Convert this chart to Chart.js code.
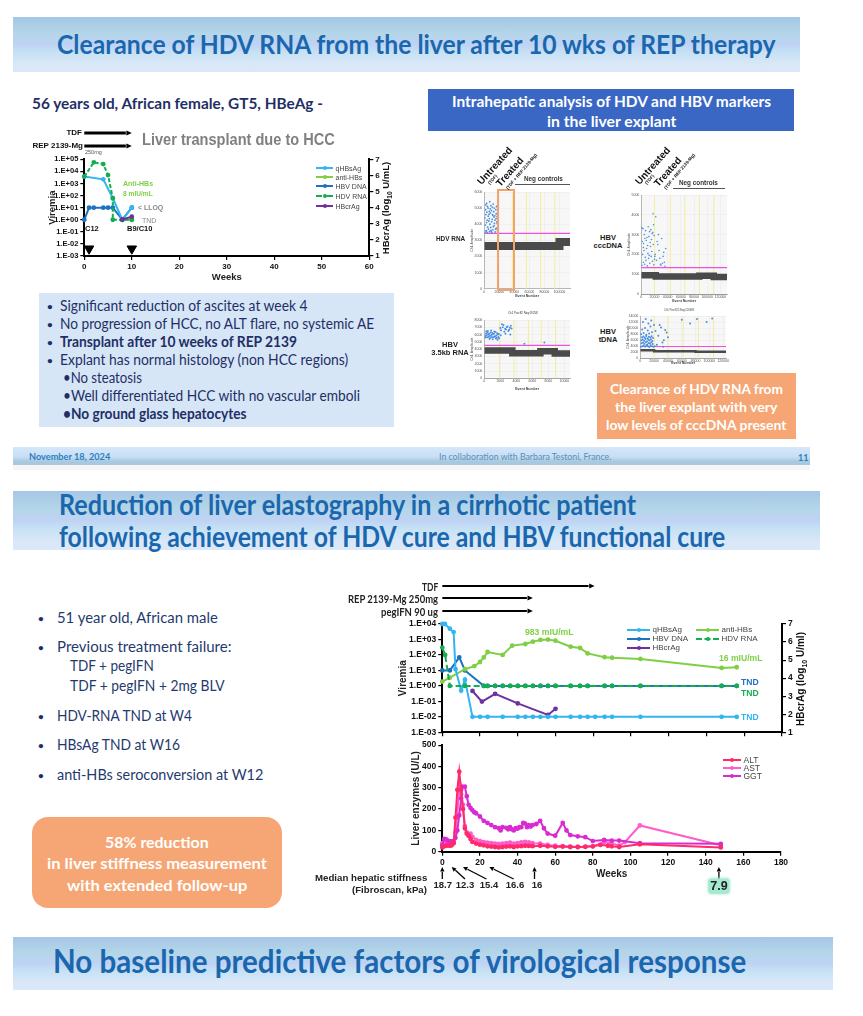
<!DOCTYPE html>
<html>
<head>
<meta charset="utf-8">
<title>HDV slides</title>
<script src="https://cdn.jsdelivr.net/npm/chart.js@4"></script>
<style>
  html, body { margin:0; padding:0; background:#fff; }
  #page { position:relative; width:863px; height:1016px; overflow:hidden; font-family:Lato, sans-serif; }
  #page canvas { position:absolute; }
  .box { position:absolute; }
  .band { background:linear-gradient(180deg,#a6c6e6 0%,#b4d6e8 30%,#bfd3f5 50%,#c6e2f4 65%,#d9e7f8 85%,#dbe8f8 100%); }
  .foot { background:linear-gradient(180deg,#d6e7f9 0%,#c6def4 55%,#a9c9df 80%,#a6c8de 100%); }
  .txt { position:absolute; white-space:nowrap; line-height:1; transform-origin:0 50%; }
  .leg { position:absolute; height:0; }
  .dot { position:absolute; width:4px; height:4px; border-radius:50%; }
</style>
</head>
<body>
<div id="page">
  <div class="box band" style="left:13px;top:17px;width:787px;height:55px"></div>
  <div class="box band" style="left:13px;top:491px;width:807px;height:59px"></div>
  <div class="box band" style="left:13px;top:937px;width:820px;height:53px"></div>
  <div class="box foot" style="left:13px;top:447px;width:797px;height:18px"></div>
  <div class="box" style="left:13px;top:465px;width:797px;height:5px;background:#f5f5f5"></div>
  <div class="box" style="left:428px;top:89px;width:366px;height:42px;background:#3a67c4"></div>
  <div class="box" style="left:39px;top:293px;width:355px;height:134px;background:#d6e6f7"></div>
  <div class="box" style="left:597px;top:373px;width:199px;height:66px;background:#f6a675"></div>
  <div class="box" style="left:32px;top:817px;width:250px;height:91px;background:#f6a675;border-radius:16px"></div>

  <canvas id="chartTop" width="346" height="158" style="left:47px;top:125px"></canvas>
  <canvas id="chartVir" width="411" height="162" style="left:397px;top:580px"></canvas>
  <canvas id="chartEnz" width="390" height="144" style="left:410px;top:738px"></canvas>
  <canvas id="ddHdv" width="104" height="110" style="left:470px;top:188px"></canvas>
  <canvas id="ddCcc" width="104" height="112" style="left:627.4px;top:191px"></canvas>
  <canvas id="ddRna" width="104" height="75" style="left:470px;top:316px"></canvas>
  <canvas id="ddTdna" width="104" height="53" style="left:625.7px;top:312px"></canvas>

  <div class="box" style="left:497px;top:189px;width:14px;height:98px;border:2.5px solid #f4a26b"></div>
  <div class="box" style="left:515px;top:184px;width:55px;height:1px;background:#555"></div>
  <div class="box" style="left:673px;top:188px;width:52px;height:1px;background:#555"></div>
</div>

<script>
// chart 1 - liver transplant patient
const topWeeksQ = [0, 4, 6, 8, 10];
const topQ = [3700, 2200, 60, 1, 10];
const topWeeksAnti = [8, 10];
const topAnti = [1, 1];
const topWeeksDna = [0, 1, 2, 4, 5, 6, 8, 10];
const topDna = [1, 10, 10, 10, 10, 10, 1, 10];
const topWeeksRna = [0, 2, 4, 5, 6, 6, 8, 10];
const topRna = [3700, 56000, 40000, 5000, 60, 1, 1, 1];
const topWeeksCr = [8, 10];
const topCr = [3.27, 3.44];
const biopsyWeeks = [1, 10];
const biopsyLevel = [0.004, 0.004];
const topTreatEnd = [10, 10];
const topViremiaTicks = [1e-3, 1e-2, 1e-1, 1, 10, 100, 1e3, 1e4, 1e5];
const topViremiaLabels = ['1.E-03', '1.E-02', '1.E-01', '1.E+00', '1.E+01', '1.E+02', '1.E+03', '1.E+04', '1.E+05'];

// chart 2 - cirrhotic patient, viremia
const virWeeksQ = [0, 1.4, 4, 6, 7, 10, 12, 16, 20, 24, 32, 40, 44, 48, 52, 56, 60, 68, 73, 77, 81, 86, 90, 105, 148, 156];
const virQ = [10000, 10000, 5000, 3000, 12, 0.5, 2.5, 0.01, 0.01, 0.01, 0.01, 0.01, 0.01, 0.01, 0.01, 0.01, 0.01, 0.01, 0.01, 0.01, 0.01, 0.01, 0.01, 0.01, 0.01, 0.01];
const virWeeksAnti = [0, 4, 12, 17, 20, 22, 24, 32, 37, 44, 48, 52, 56, 60, 68, 73, 77, 86, 90, 105, 148, 156];
const virAnti = [1.9, 3.4, 12, 19, 35, 69, 155, 100, 400, 510, 725, 930, 983, 830, 340, 280, 126, 72, 66, 55, 14.5, 16];
const virWeeksDna = [0, 4, 9, 12, 22, 24, 28, 32, 36, 40, 44, 48, 52, 56, 60, 68, 73, 77, 86, 90, 105, 148, 156];
const virDna = [10, 10, 70, 10, 1, 1, 1, 1, 1, 1, 1, 1, 1, 1, 1, 1, 1, 1, 1, 1, 1, 1, 1];
const virWeeksRna = [0, 1.5, 4, 12, 22, 24, 28, 32, 36, 40, 44, 48, 52, 56, 60, 68, 73, 77, 86, 90, 105, 148, 156];
const virRna = [300, 100, 1, 1, 1, 1, 1, 1, 1, 1, 1, 1, 1, 1, 1, 1, 1, 1, 1, 1, 1, 1, 1];
const virWeeksCr = [16, 21, 28, 40, 56, 60];
const virCr = [3.29, 2.7, 3.13, 2.6, 1.96, 2.3];
const virTreatEnd = [80.7, 48, 48];
const virTicks = [1e-3, 1e-2, 1e-1, 1, 10, 100, 1e3, 1e4];
const virLabels = ['1.E-03', '1.E-02', '1.E-01', '1.E+00', '1.E+01', '1.E+02', '1.E+03', '1.E+04'];

// chart 3 - liver enzymes
const altWeeks = [0, 1, 2, 3, 4, 5, 6, 7, 8, 9, 10, 11, 12, 13, 14, 15, 16, 18, 20, 22, 24, 26, 28, 30, 32, 34, 36, 38, 40, 42, 44, 46, 48, 52, 56, 60, 64, 68, 72, 76, 80, 84, 88, 90, 94, 105, 148];
const alt = [20, 25, 28, 30, 28, 30, 40, 160, 290, 375, 290, 200, 110, 85, 75, 60, 46, 38, 33, 30, 25, 24, 22, 20, 22, 24, 25, 22, 25, 26, 28, 27, 26, 28, 25, 23, 24, 22, 22, 23, 25, 32, 28, 25, 22, 35, 20];
const astWeeks = [0, 1, 2, 3, 4, 5, 6, 7, 8, 9, 10, 11, 12, 13, 14, 15, 16, 18, 20, 22, 24, 26, 28, 30, 32, 34, 36, 38, 40, 42, 44, 46, 48, 52, 56, 60, 64, 68, 72, 76, 80, 86, 90, 94, 97, 105, 148];
const ast = [40, 42, 45, 45, 42, 40, 40, 90, 170, 320, 270, 220, 120, 90, 75, 85, 70, 55, 50, 45, 42, 40, 38, 36, 38, 40, 42, 38, 40, 44, 46, 44, 40, 38, 32, 28, 26, 24, 22, 24, 25, 45, 40, 28, 45, 123, 30];
const ggtWeeks = [0, 1, 2, 3, 4, 5, 6, 7, 8, 9, 10, 10.5, 12, 13, 14, 15, 16, 17, 18, 20, 22, 24, 26, 28, 30, 31, 32, 34, 35, 36, 37, 38, 39, 40, 41, 42, 43, 44, 45, 46, 47, 48, 50, 52, 54, 56, 60, 64, 66, 68, 72, 76, 80, 86, 90, 94, 105, 148];
const ggt = [30, 60, 58, 52, 48, 48, 50, 65, 100, 170, 250, 305, 305, 260, 220, 205, 195, 185, 180, 165, 145, 135, 125, 115, 110, 100, 115, 112, 105, 115, 105, 100, 110, 108, 115, 115, 135, 132, 115, 125, 118, 125, 130, 145, 110, 85, 75, 135, 100, 78, 72, 68, 50, 55, 52, 52, 40, 37];
const fibroWeeks = [0, 5, 11, 25, 49, 147];
const fibroValues = ['18.7', '12.3', '15.4', '16.6', '16', '7.9'];

// droplet panels, values read by eye
const hdvBlueX = [1000,2500,4000,5500,7000,8500,10000,11500,13000,14500,16000,17500,1500,3000,4500,6000,7500,9000,10500,12000,13500,15000,16500,18000,800,2200,3600,5200,6800,8200,9800,11200,12800,14200,15800,17200,1800,3400,5000,6600,8000,9600,11000,12600,14000,15600,17000,2000,4200,6400,8800,10800,13200,15400,3200,7200,11800,16200,2800,9400];
const hdvBlueY = [3500,3600,3480,3700,3550,3800,3460,3650,3900,3520,3750,3600,3950,4100,3820,4200,4000,3620,4300,3850,4050,3700,4150,3920,4400,4600,4250,4500,4350,4700,4150,4550,4450,4250,4650,4050,4900,4750,5000,4800,4950,4850,4600,4780,4520,4350,4480,5200,5100,4620,5150,5050,5000,4900,5300,5400,5250,5100,3580,3540];
const hdvBand = [2650, 2650, 2900, 2900];
const hdvBandX = [0, 100000, 100000, 114000];
const hdvWells = [18600, 37300, 56000, 75000, 94000];

const cccBlueX = [1000,3000,5000,7000,9000,11000,13000,15000,17000,19000,2000,4000,6000,8000,10000,12000,14000,16000,18000,20000,1500,3500,5500,7500,9500,11500,13500,15500,17500,19500,2500,4500,6500,8500,10500,12500,14500,16500,18500,21000,23000,25000,27000,29000,31000,33000,35000,37000,22000,26000,30000,34000,24000,28000,32000,36000,20500,600,3200,17800];
const cccBlueY = [1450,1600,1500,1700,1420,1800,1550,1900,1650,1480,2000,2200,1850,2300,2050,1950,2400,2150,2500,1750,2650,2550,2800,2700,2450,2900,2600,2750,3100,2950,3300,3000,3200,2850,3400,3150,3250,3050,3500,2000,1700,2500,2200,1500,2800,1900,1600,2300,3900,3000,1450,2100,2650,1800,1550,1400,1900,3350,2350,4050];
const cccBand = [950, 950, 880, 880, 920, 920, 860, 860];
const cccBandX = [0, 22000, 22000, 88000, 88000, 110000, 110000, 130000];
const cccWells = [20000, 44000, 66000, 88000, 110000];

const rnaBlueX = [100,300,500,700,900,1100,1300,1500,1700,200,400,600,800,1000,1200,1400,1600,1800,150,350,550,750,950,1150,1350,1550,1750,250,450,650,850,1050,1250,1450,1650,1850,2000,2300,2600,2900,3200,3400,2100,2400,2700,3000,3300,2200,2500,2800,3100,2050,2650,3250,7500,5000];
const rnaBlueY = [5800,5900,6000,5850,5950,6050,5750,5880,6020,6150,6250,6100,6300,6200,6120,6350,6180,6080,5600,5650,5700,5550,5680,5620,5720,5580,5660,6450,6500,5400,6550,5350,6420,5450,5300,5500,6900,7000,6800,7100,6950,6850,6600,7300,6700,6500,7200,7400,6400,7050,6650,5900,6100,6000,4900,4750];
const rnaBand = [3800, 3800, 3450, 3450, 3700, 3700, 3400, 3400];
const rnaBandX = [0, 3500, 3500, 7000, 7000, 8800, 8800, 10700];
const rnaWells = [1900, 3700, 5500, 7100, 8900];

const tdnaBlueX = [1000,3000,5000,7000,9000,11000,13000,15000,17000,19000,2000,4000,6000,8000,10000,12000,14000,16000,18000,1500,3500,5500,7500,9500,11500,13500,15500,17500,2500,4500,6500,8500,10500,12500,14500,16500,18500,1200,4800,8800,12800,16800,2800,6800,10800,14800,22000,26000,30000,34000,38000,24000,28000,32000,36000,40000,3800,7800,11800,15800,19800,60000,72000,82000,96000,104000,21000,33000];
const tdnaBlueY = [3800,4000,4200,3900,4400,4100,3700,4300,4000,3800,5000,5200,4800,5400,4600,5100,4900,5300,4700,6000,6200,5800,6400,5600,6100,5900,6300,5700,7000,7200,6800,7400,6600,7100,6900,7300,6700,8000,8400,7800,8200,8600,9500,10000,9200,10500,9000,7500,10200,6000,8500,4500,11000,5200,9400,7000,12000,13000,11500,12500,11000,12800,11500,13000,12000,13200,4000,3800];
const tdnaBand = [2700, 2700, 2300, 2300, 2200, 2200];
const tdnaBandX = [0, 20000, 20000, 80000, 80000, 124000];
const tdnaWells = [20000, 40000, 62000, 84000, 106000];

const pageEl = document.getElementById('page');
const arial = '"Liberation Sans", Arial, sans-serif';
const navy = '#1f2f66';
const titleBlue = '#1a67ae';

function xy(xs, ys) { return xs.map((x, i) => ({ x: x, y: ys[i] })); }

function lineSet(label, xs, ys, color, extra) {
  return Object.assign({
    label: label, data: xy(xs, ys), borderColor: color, backgroundColor: color,
    borderWidth: 2, pointRadius: 1.4, pointHoverRadius: 1.4, tension: 0, clip: false
  }, extra || {});
}

function arrow(ctx, x1, y1, x2, y2, lw, head) {
  const a = Math.atan2(y2 - y1, x2 - x1);
  ctx.save();
  ctx.strokeStyle = ctx.fillStyle = '#000';
  ctx.lineWidth = lw;
  ctx.beginPath();
  ctx.moveTo(x1, y1);
  ctx.lineTo(x2 - Math.cos(a) * head, y2 - Math.sin(a) * head);
  ctx.stroke();
  ctx.beginPath();
  ctx.moveTo(x2, y2);
  ctx.lineTo(x2 - Math.cos(a - 0.45) * head, y2 - Math.sin(a - 0.45) * head);
  ctx.lineTo(x2 - Math.cos(a + 0.45) * head, y2 - Math.sin(a + 0.45) * head);
  ctx.closePath();
  ctx.fill();
  ctx.restore();
}

// treatment bars above the plots, fibroscan arrows below, well lines on droplet plots
const slidePlugin = {
  id: 'slideMarks',
  beforeDatasetsDraw(chart, args, opts) {
    const a = chart.chartArea, ctx = chart.ctx;
    if (opts.wells) {
      ctx.save();
      ctx.fillStyle = 'rgba(240,240,240,0.5)';
      ctx.fillRect(a.left, a.top, a.right - a.left, a.bottom - a.top);
      ctx.strokeStyle = '#f2eda0';
      ctx.lineWidth = 1;
      opts.wells.forEach(w => {
        const x = chart.scales.x.getPixelForValue(w);
        ctx.beginPath(); ctx.moveTo(x, a.top); ctx.lineTo(x, a.bottom); ctx.stroke();
      });
      ctx.restore();
    }
  },
  afterDraw(chart, args, opts) {
    const ctx = chart.ctx, xs = chart.scales.x;
    (opts.treat || []).forEach((end, i) => {
      arrow(ctx, xs.getPixelForValue(0), opts.rows[i], xs.getPixelForValue(end), opts.rows[i], opts.lw, 6);
    });
    (opts.fibro || []).forEach((wk, i) => {
      arrow(ctx, xs.getPixelForValue(wk) + opts.tails[i], 141, xs.getPixelForValue(wk), 129, 1.3, 5);
    });
  }
};
Chart.register(slidePlugin);

// fixed plot rectangles so the slide layout lines up
function sideAxis(width, extra) {
  return Object.assign({ afterFit: s => { s.width = width; } }, extra);
}
function bottomAxis(height, extra) {
  return Object.assign({ afterFit: s => { s.height = height; } }, extra);
}
const blackGrid = { drawOnChartArea: false, drawTicks: true, tickLength: 4, color: '#000', lineWidth: 1.2 };
const blackBorder = { color: '#000', width: 2 };

function tickFont(size) { return { family: arial, size: size, weight: 'bold' }; }
function titleOpt(text, size, color, pad) {
  return { display: true, text: text, color: color || '#222', font: { family: arial, size: size, weight: 'bold' }, padding: pad || 0 };
}

function baseOptions(top, right, marks) {
  return {
    responsive: false, animation: false, events: [],
    layout: { padding: { top: top, left: 0, right: right || 0, bottom: 0 } },
    plugins: { legend: { display: false }, tooltip: { enabled: false }, title: { display: false }, slideMarks: marks || {} }
  };
}

function logAxis(width, ticks, labels, max, fontSize, titleSize) {
  return sideAxis(width, {
    type: 'logarithmic', position: 'left', min: 1e-3, max: max,
    afterBuildTicks: s => { s.ticks = ticks.map(v => ({ value: v, major: true })); },
    ticks: { color: '#111', font: tickFont(fontSize), padding: 2, autoSkip: false, callback: (v, i) => labels[i] },
    grid: blackGrid, border: blackBorder,
    title: titleOpt('Viremia', titleSize)
  });
}
function crAxis(width, fontSize) {
  return sideAxis(width, {
    type: 'linear', position: 'right', min: 1, max: 7,
    ticks: { stepSize: 1, color: '#111', font: tickFont(fontSize), padding: 2 },
    grid: blackGrid, border: blackBorder
  });
}
function weekAxis(height, max, step, fontSize, showLabels, title, titleSize, pad) {
  return bottomAxis(height, {
    type: 'linear', min: 0, max: max,
    ticks: { stepSize: step, display: showLabels, color: '#111', font: tickFont(fontSize), maxRotation: 0, padding: 2 },
    grid: blackGrid, border: blackBorder,
    title: title ? titleOpt(title, titleSize, '#222', pad) : { display: false }
  });
}

const qColor = '#33b5f0', antiColor = '#7fcf45', dnaColor = '#1e73be', rnaColor = '#14ad50', crColor = '#7030a0';
const altColor = '#ff2a6a', astColor = '#ff5ccc', ggtColor = '#d82cd0';

new Chart(document.getElementById('chartTop'), {
  type: 'line',
  data: { datasets: [
    lineSet('qHBsAg', topWeeksQ, topQ, qColor),
    lineSet('anti-HBs', topWeeksAnti, topAnti, antiColor),
    lineSet('HBV DNA', topWeeksDna, topDna, dnaColor),
    lineSet('HDV RNA', topWeeksRna, topRna, rnaColor, { borderDash: [4, 2], order: -1 }),
    lineSet('HBcrAg', topWeeksCr, topCr, crColor, { yAxisID: 'y2', order: -2 }),
    { label: 'biopsy', data: xy(biopsyWeeks, biopsyLevel), showLine: false, pointStyle: 'triangle', rotation: 180, pointRadius: 5.5, backgroundColor: '#000', borderColor: '#000', clip: false }
  ] },
  options: Object.assign(baseOptions(34.3, 0, { treat: topTreatEnd, rows: [8, 21], lw: 3 }), {
    scales: {
      x: weekAxis(27, 60, 10, 8, true, 'Weeks', 9.5, { bottom: 0 }),
      y: logAxis(37.3, topViremiaTicks, topViremiaLabels, 1e5, 7.5, 9.5),
      y2: crAxis(23.7, 8)
    }
  })
});

new Chart(document.getElementById('chartVir'), {
  type: 'line',
  data: { datasets: [
    lineSet('qHBsAg', virWeeksQ, virQ, qColor),
    lineSet('anti-HBs', virWeeksAnti, virAnti, antiColor),
    lineSet('HBV DNA', virWeeksDna, virDna, dnaColor),
    lineSet('HDV RNA', virWeeksRna, virRna, rnaColor, { borderDash: [6, 3], order: -1 }),
    lineSet('HBcrAg', virWeeksCr, virCr, crColor, { yAxisID: 'y2' })
  ] },
  options: Object.assign(baseOptions(44, 0, { treat: virTreatEnd, rows: [6, 18, 31], lw: 2 }), {
    scales: {
      x: weekAxis(9.7, 180, 20, 8, false),
      y: logAxis(45.3, virTicks, virLabels, 1e4, 8.5, 10),
      y2: crAxis(26, 8.5)
    }
  })
});

new Chart(document.getElementById('chartEnz'), {
  type: 'line',
  data: { datasets: [
    lineSet('ALT', altWeeks, alt, altColor, { order: -1 }),
    lineSet('AST', astWeeks, ast, astColor, { order: 1 }),
    lineSet('GGT', ggtWeeks, ggt, ggtColor, { order: 0 })
  ] },
  options: Object.assign(baseOptions(5, 19, { fibro: fibroWeeks, tails: [0, 13.3, 23.4, 24.3, 0, 0] }), {
    scales: {
      x: weekAxis(30.3, 180, 20, 8.5, true, 'Weeks', 10, { bottom: 2 }),
      y: sideAxis(32.3, {
        type: 'linear', min: 0, max: 500,
        ticks: { stepSize: 100, color: '#111', font: tickFont(8.5), padding: 2 },
        grid: blackGrid, border: blackBorder,
        title: titleOpt('Liver enzymes (U/L)', 10)
      })
    }
  })
});

function droplet(id, spec) {
  new Chart(document.getElementById(id), {
    type: 'scatter',
    data: { datasets: [
      { data: xy(spec.bandX, spec.band), showLine: true, borderColor: '#4a4a4a', borderWidth: spec.bandW, pointRadius: 0, borderCapStyle: 'butt', order: 2 },
      { data: xy([0, spec.xMax], [spec.thresh, spec.thresh]), showLine: true, borderColor: '#f050e0', borderWidth: 1.2, pointRadius: 0, order: 1 },
      { data: xy(spec.blueX, spec.blueY), showLine: false, pointRadius: spec.dot, backgroundColor: '#4a8fe0', borderWidth: 0, order: 0 }
    ] },
    options: Object.assign(baseOptions(spec.top, spec.right, { wells: spec.wells }), {
      scales: {
        x: bottomAxis(spec.bottom, {
          type: 'linear', min: 0, max: spec.xMax,
          afterBuildTicks: s => { s.ticks = spec.xTicks.map(v => ({ value: v })); },
          ticks: { color: '#555', font: { family: arial, size: 3.5 }, maxRotation: 0, padding: 0, autoSkip: false, callback: v => String(v) },
          grid: { color: '#e2e2e2', lineWidth: 0.5, tickLength: 1 }, border: { color: '#999' },
          title: { display: true, text: 'Event Number', color: '#444', font: { family: arial, size: 3.5, weight: 'bold' }, padding: 0 }
        }),
        y: sideAxis(14.3, {
          type: 'linear', min: 0, max: spec.yMax,
          ticks: { stepSize: spec.yStep, color: '#555', font: { family: arial, size: 3.5 }, padding: 1, autoSkip: false, callback: v => String(v) },
          grid: { color: '#e2e2e2', lineWidth: 0.5, tickLength: 1 }, border: { color: '#999' },
          title: { display: true, text: 'Ch1 Amplitude', color: '#444', font: { family: arial, size: 3.5 }, padding: 0 }
        })
      }
    })
  });
}

droplet('ddHdv', { band: hdvBand, bandX: hdvBandX, bandW: 8, thresh: 3430, blueX: hdvBlueX, blueY: hdvBlueY, dot: 0.9, wells: hdvWells, xMax: 114000, yMax: 6000, yStep: 1000, xTicks: [0, 20000, 40000, 60000, 80000, 100000], top: 2.7, bottom: 9.3, right: 4 });
droplet('ddCcc', { band: cccBand, bandX: cccBandX, bandW: 6.5, thresh: 1333, blueX: cccBlueX, blueY: cccBlueY, dot: 0.8, wells: cccWells, xMax: 130000, yMax: 5000, yStep: 1000, xTicks: [0, 20000, 40000, 60000, 80000, 100000, 120000], top: 3, bottom: 9, right: 2 });
droplet('ddRna', { band: rnaBand, bandX: rnaBandX, bandW: 6.5, thresh: 4520, blueX: rnaBlueX, blueY: rnaBlueY, dot: 1, wells: rnaWells, xMax: 10700, yMax: 8000, yStep: 1000, xTicks: [0, 2000, 4000, 6000, 8000, 10000], top: 3.3, bottom: 12.7, right: 3.3 });
droplet('ddTdna', { band: tdnaBand, bandX: tdnaBandX, bandW: 2.5, thresh: 3900, blueX: tdnaBlueX, blueY: tdnaBlueY, dot: 1, wells: tdnaWells, xMax: 124000, yMax: 14000, yStep: 2000, xTicks: [0, 20000, 40000, 60000, 80000, 100000, 120000], top: 3, bottom: 6.7, right: 0.7 });

// text on the slide; w stretches the line to its measured width in the slide
function label(text, x, y, css, w) {
  const el = document.createElement('div');
  el.className = 'txt';
  el.textContent = text;
  el.style.left = x + 'px';
  el.style.top = y + 'px';
  Object.assign(el.style, css);
  pageEl.appendChild(el);
  const sideways = { left: '0', center: '-50%', right: '-100%' }[css.align || 'left'];
  let tf = 'translate(' + sideways + ',-50%)';
  if (w) tf += ' scaleX(' + (w / el.offsetWidth) + ')';
  el.style.transform = tf;
  return el;
}
function rotated(html, x, y, size, angle, color) {
  const el = label('', x, y, { fontFamily: arial, fontSize: size + 'px', fontWeight: 'bold', color: color || '#111', align: 'center' });
  el.innerHTML = html;
  el.style.transformOrigin = '50% 50%';
  el.style.transform = 'translate(-50%,-50%) rotate(' + angle + 'deg)';
}
function bold(px, color) { return { fontSize: px + 'px', fontWeight: 'bold', color: color }; }
function plain(px, color) { return { fontSize: px + 'px', color: color }; }
function sans(px, color, weight, extra) { return Object.assign({ fontFamily: arial, fontSize: px + 'px', fontWeight: weight || 'bold', color: color }, extra || {}); }

label('Clearance of HDV RNA from the liver after 10 wks of REP therapy', 57, 43, bold(27, titleBlue), 718);
label('Reduction of liver elastography in a cirrhotic patient', 59, 503, bold(29, titleBlue), 577);
label('following achievement of HDV cure and HBV functional cure', 59, 535, bold(29, titleBlue), 666);
label('No baseline predictive factors of virological response', 53, 960, bold(33, titleBlue), 693);
label('56 years old, African female, GT5, HBeAg -', 32, 103, bold(15, navy), 291);

label('Intrahepatic analysis of HDV and HBV markers', 452, 101, bold(15, '#fff'), 319);
label('in the liver explant', 547, 121, bold(15, '#fff'), 129);

[['Significant reduction of ascites at week 4', 306, 248, 0],
 ['No progression of HCC, no ALT flare, no systemic AE', 324, 314, 0],
 ['Transplant after 10 weeks of REP 2139', 342, 237, 1],
 ['Explant has normal histology (non HCC regions)', 360, 288, 0]].forEach(r => {
  label('•', 47, r[1], bold(10, navy));
  label(r[0], 60, r[1], r[3] ? bold(14.5, navy) : plain(14.5, navy), r[2]);
});
label('•No steatosis', 63, 378, plain(14.5, navy), 79);
label('•Well differentiated HCC with no vascular emboli', 63, 396, plain(14.5, navy), 297);
label('•No ground glass hepatocytes', 63, 414, bold(14.5, navy), 184);

label('November 18, 2024', 29, 457, bold(8.5, '#2a7fc0'), 81);
label('In collaboration with Barbara Testoni, France.', 439, 457, plain(8.5, '#5b8fb8'), 172);
label('11', 798, 457, bold(9, '#2a7fc0'));

label('Clearance of HDV RNA from', 610, 389, bold(14, '#fff'), 173);
label('the liver explant with very', 615, 407, bold(14, '#fff'), 163);
label('low levels of cccDNA present', 606, 425, bold(14, '#fff'), 180);

[['51 year old, African male', 618, 161],
 ['Previous treatment failure:', 647, 174],
 ['HDV-RNA TND at W4', 716, 135],
 ['HBsAg TND at W16', 745, 123],
 ['anti-HBs seroconversion at W12', 775, 206]].forEach(r => {
  label('•', 38, r[1], bold(10, navy));
  label(r[0], 57, r[1], plain(14.5, '#1f3a6e'), r[2]);
});
label('TDF + pegIFN', 70, 666, plain(14.5, '#1f3a6e'), 84);
label('TDF + pegIFN + 2mg BLV', 70, 686, plain(14.5, '#1f3a6e'), 155);

label('58% reduction', 105, 842, bold(15, '#fff'), 104);
label('in liver stiffness measurement', 47, 863, bold(15, '#fff'), 220);
label('with extended follow-up', 67, 885, bold(15, '#fff'), 180);

// chart 1 notes
label('TDF', 82, 133, sans(8, '#111', 'bold', { align: 'right' }));
label('REP 2139-Mg', 83, 146, sans(8, '#111', 'bold', { align: 'right' }));
label('250mg', 85, 153, sans(5.5, '#555', 'normal'));
label('Liver transplant due to HCC', 142, 139, sans(17, '#808080'), 193);
label('Anti-HBs', 123, 184, sans(7.5, '#7fcf45'), 30);
label('8 mIU/mL', 123, 194, sans(7.5, '#7fcf45'), 30);
label('< LLOQ', 138, 208, sans(7.5, '#888'), 25);
label('TND', 142, 220, sans(7, '#888', 'normal'));
label('C12', 85, 229, sans(7.5, '#111'));
label('B9/C10', 127, 229, sans(7.5, '#111'));
rotated('HBcrAg (log<sub style="font-size:.7em">10</sub> U/mL)', 387, 208, 9.5, -90);

// chart 2 notes
label('TDF', 422, 586, bold(11, '#222'), 16);
label('REP 2139-Mg 250mg', 348, 598, bold(11, '#222'), 90);
label('pegIFN 90 ug', 381, 611, bold(11, '#222'), 57);
label('983 mIU/mL', 525, 632, sans(9, antiColor), 49);
label('16 mIU/mL', 719, 658, sans(9, antiColor), 44);
label('TND', 741, 682, sans(9.5, dnaColor), 18);
label('TND', 741, 693, sans(9.5, rnaColor), 18);
label('TND', 741, 717, sans(9.5, qColor), 18);
rotated('HBcrAg (log<sub style="font-size:.7em">10</sub> U/ml)', 802, 679, 10, -90);

// chart 3 notes
label('Median hepatic stiffness', 315, 878, sans(9.5, '#222'), 112);
label('(Fibroscan, kPa)', 352, 890, sans(9.5, '#222'), 75);
const fibroX = [442.7, 465, 489, 515, 537];
fibroValues.slice(0, 5).forEach((v, i) => {
  label(v, fibroX[i], 885, sans(9.5, '#222', 'bold', { align: 'center' }));
});
label(fibroValues[5], 719, 886, sans(12.5, '#222', 'bold', { align: 'center', background: '#a5ead0', padding: '1px 2px', borderRadius: '3px', boxShadow: '0 0 3px #a5ead0' }));

// legends
function legendRow(name, color, x1, x2, y, size, dashed, lw) {
  const ln = document.createElement('div');
  ln.className = 'leg';
  ln.style.left = x1 + 'px';
  ln.style.top = (y - (lw || 2) / 2) + 'px';
  ln.style.width = (x2 - x1) + 'px';
  ln.style.borderTop = (lw || 2) + 'px ' + (dashed ? 'dashed ' : 'solid ') + color;
  pageEl.appendChild(ln);
  const d = document.createElement('div');
  d.className = 'dot';
  d.style.left = ((x1 + x2) / 2 - 2) + 'px';
  d.style.top = (y - 2) + 'px';
  d.style.background = color;
  pageEl.appendChild(d);
  label(name, x2 + 2.5, y, sans(size, '#444', 'normal'));
}
legendRow('qHBsAg', qColor, 316, 333, 168, 7);
legendRow('anti-HBs', antiColor, 316, 333, 177, 7);
legendRow('HBV DNA', dnaColor, 316, 333, 186, 7);
legendRow('HDV RNA', rnaColor, 316, 333, 196, 7, true);
legendRow('HBcrAg', crColor, 316, 333, 206, 7);

legendRow('qHBsAg', qColor, 627, 650, 630, 8);
legendRow('anti-HBs', antiColor, 696, 719, 630, 8);
legendRow('HBV DNA', dnaColor, 627, 650, 639, 8);
legendRow('HDV RNA', rnaColor, 696, 719, 639, 8, true);
legendRow('HBcrAg', crColor, 627, 650, 648, 8);

legendRow('ALT', altColor, 723, 741, 760, 8.5);
legendRow('AST', astColor, 723, 741, 768, 8.5);
legendRow('GGT', ggtColor, 723, 741, 776, 8.5);

// droplet panel labels
label('HDV RNA', 436, 239, sans(7.5, '#222'), 29);
label('HBV', 608, 238, sans(7.5, '#222', 'bold', { align: 'center' }));
label('cccDNA', 608, 246, sans(7.5, '#222', 'bold', { align: 'center' }));
label('HBV', 450, 345, sans(7.5, '#222', 'bold', { align: 'center' }));
label('3.5kb RNA', 450, 353, sans(7.5, '#222', 'bold', { align: 'center' }));
label('HBV', 608, 332, sans(7.5, '#222', 'bold', { align: 'center' }));
label('tDNA', 608, 340, sans(7.5, '#222', 'bold', { align: 'center' }));
label('Neg controls', 524, 178, sans(7, '#333'), 39);
label('Neg controls', 679, 182, sans(7, '#333'), 39);
label('Ch1 Pos:82 Neg:59258', 508, 313, sans(4, '#333', 'normal'), 30);
label('Ch1 Pos:821 Neg:120698', 664, 310, sans(4, '#333', 'normal'), 30);

rotated('Untreated', 495, 166, 10, -48);
rotated('(TDF)', 492.7, 180, 4.5, -48);
rotated('Treated', 510, 172, 10, -48);
rotated('(TDF + REP 2139-Mg)', 522, 172, 4.5, -50);
rotated('Untreated', 653, 166, 10, -48);
rotated('(TDF)', 650, 180, 4.5, -48);
rotated('Treated', 668, 172, 10, -48);
rotated('(TDF + REP 2139-Mg)', 680, 172, 4.5, -50);
</script>
</body>
</html>
